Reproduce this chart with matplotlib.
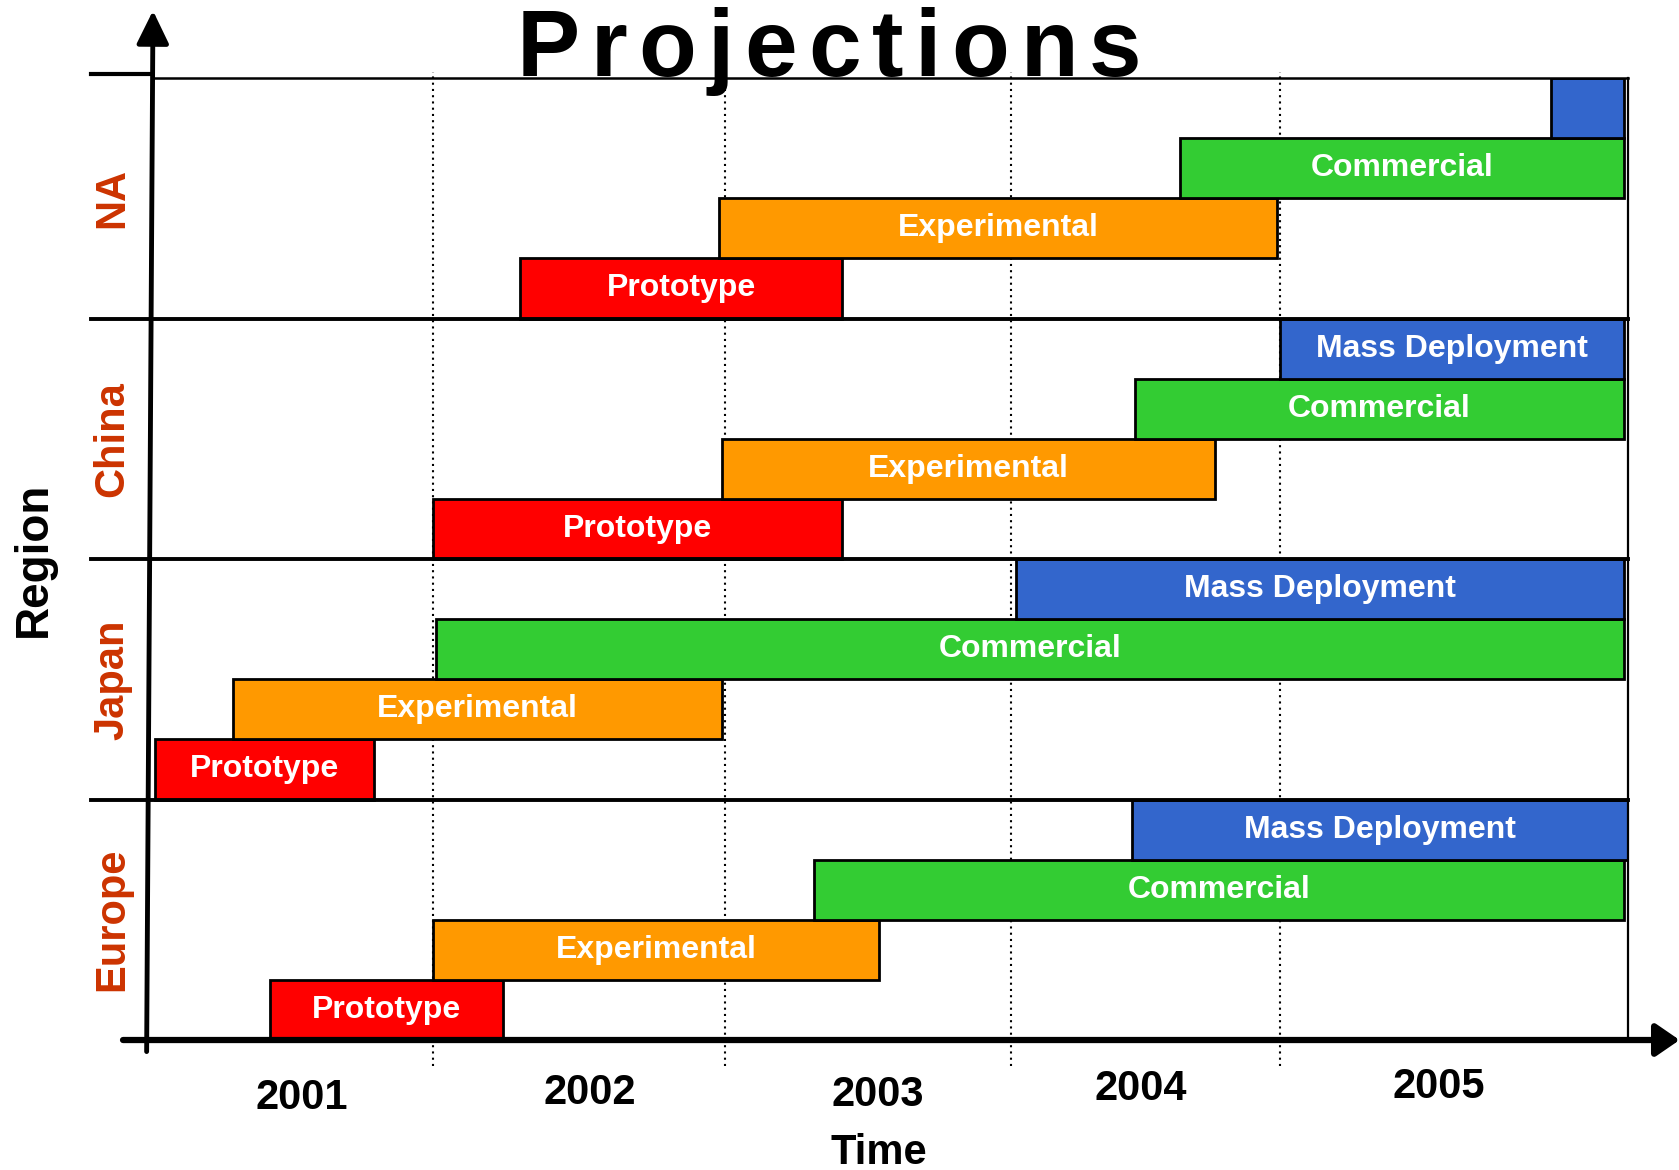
import numpy as np
import matplotlib.pyplot as plt
from matplotlib.transforms import IdentityTransform, blended_transform_factory

plt.rcParams['font.family'] = ['Liberation Sans', 'DejaVu Sans']
plt.rcParams['font.weight'] = 'bold'

# --- data -------------------------------------------------------------
regions = ['Europe', 'Japan', 'China', 'NA']          # bottom to top
phases = ['Prototype', 'Experimental', 'Commercial', 'Mass Deployment']
years = [2001, 2002, 2003, 2004, 2005]

# phase start / end (years), one value per region in the order above
prototype_start = [2001.42, 2001.01, 2002.00, 2002.30]
prototype_end = [2002.24, 2001.79, 2003.41, 2003.41]
experimental_start = [2002.00, 2001.29, 2002.99, 2002.98]
experimental_end = [2003.54, 2002.99, 2004.76, 2004.99]
commercial_start = [2003.31, 2002.01, 2004.46, 2004.63]
commercial_end = [2005.99, 2005.99, 2005.99, 2005.99]
mass_start = [2004.45, 2004.02, 2005.00, 2005.78]
mass_end = [2006.00, 2005.99, 2005.99, 2005.99]

phase_colors = ['#FF0000', '#FF9900', '#33CC33', '#3366CC']
region_color = '#CC3300'

# drawn width of each year column is not uniform in the original
year_edges = [2001, 2002, 2003, 2004, 2005, 2006]
edge_px = [0, 262, 535, 802, 1053, 1378]


def fwd(x):
    x = np.asarray(x, float)
    y = np.interp(x, year_edges, edge_px)
    y = np.where(x < 2001, (x - 2001) * 262, y)
    y = np.where(x > 2006, 1378 + (x - 2006) * 325, y)
    return y


def inv(p):
    p = np.asarray(p, float)
    x = np.interp(p, edge_px, year_edges)
    x = np.where(p < 0, 2001 + p / 262, x)
    x = np.where(p > 1378, 2006 + (p - 1378) / 325, x)
    return x


fig = plt.figure(figsize=(16.79, 11.70), dpi=100)
ax = fig.add_axes([0.0905, 0.1111, 0.8791, 0.8222])
ax.set_xscale('function', functions=(fwd, inv))
ax.set_xlim(2001, 2006)
ax.set_ylim(0, 16)
ax.set_axis_off()

bx = blended_transform_factory(ax.transAxes, ax.transData)
bd = blended_transform_factory(ax.transData, ax.transAxes)

starts = [prototype_start, experimental_start, commercial_start, mass_start]
ends = [prototype_end, experimental_end, commercial_end, mass_end]

for p, (s, e) in enumerate(zip(starts, ends)):
    for r in range(len(regions)):
        yc = 4 * r + p + 0.5
        ax.barh(yc, e[r] - s[r], left=s[r], height=1, color=phase_colors[p],
                edgecolor='black', linewidth=2, zorder=2)
        if e[r] - s[r] > 0.5:
            xm = inv((fwd(s[r]) + fwd(e[r])) / 2)
            ax.text(xm, yc, phases[p], ha='center', va='center', color='white',
                    fontsize=23, fontweight='bold', zorder=3)

# year separators
for yr in years[1:]:
    ax.axvline(yr, ymin=-0.027, ymax=1.006, color='black', ls=(0, (1, 2)),
               lw=1.5, clip_on=False, zorder=0.5)

# region separators with stubs
for yb in [4, 8, 12]:
    ax.axhline(yb, xmin=-0.0414, xmax=1, color='black', lw=2.8,
               clip_on=False, zorder=4)
ax.axhline(16, xmin=0, xmax=1, color='black', lw=1.8, clip_on=False, zorder=4)
ax.axhline(16.06, xmin=-0.0414, xmax=0, color='black', lw=3,
           clip_on=False, zorder=4)
ax.axvline(2006, ymin=0, ymax=1, color='black', lw=1.6, clip_on=False, zorder=4)

# axis arrows
ax.annotate('', xy=(1.035, 0), xytext=(-0.0196, 0), xycoords='axes fraction',
            arrowprops=dict(arrowstyle='-|>,head_length=0.32,head_width=0.22',
                            mutation_scale=45, lw=4.5, color='black',
                            shrinkA=0, shrinkB=0), zorder=5)
ax.annotate('', xy=(0.0007, 1.07), xytext=(-0.0036, -0.012),
            xycoords='axes fraction',
            arrowprops=dict(arrowstyle='-|>,head_length=0.45,head_width=0.22',
                            mutation_scale=45, lw=3.5, color='black',
                            shrinkA=0, shrinkB=0), zorder=5)

# region names
for r, name in enumerate(regions):
    ax.text(-0.027, 4 * r + 2, name, transform=bx, rotation=90, ha='center',
            va='center', color=region_color, fontsize=30, fontweight='bold')

ax.text(-0.0798, 8, 'Region', transform=bx, rotation=90, ha='center',
        va='center', color='black', fontsize=33, fontweight='bold')
ax.text(0.4927, -0.117, 'Time', transform=ax.transAxes, ha='center',
        va='center', color='black', fontsize=30, fontweight='bold')

# year labels (hand placed in the original)
label_px = [140, 409, 678, 923, 1201]
label_dy = [-0.060, -0.0546, -0.057, -0.051, -0.049]
for yr, lp, dy in zip(years, label_px, label_dy):
    ax.text(float(inv(lp)), dy, str(yr), transform=bd, ha='center',
            va='center', fontsize=30, fontweight='bold')

# letter-spaced title
title = 'Projections'
fig.canvas.draw()
renderer = fig.canvas.get_renderer()
widths = []
for ch in title:
    t = fig.text(0, 0, ch, fontsize=68, fontweight='bold')
    widths.append(t.get_window_extent(renderer).width)
    t.remove()
gap = 11
x = 829 - (sum(widths) + gap * (len(title) - 1)) / 2
for ch, w in zip(title, widths):
    fig.text(x, 1170 - 76, ch, transform=IdentityTransform(), ha='left',
             va='baseline', fontsize=68, fontweight='bold')
    x += w + gap

fig.savefig('out.png', dpi=100, facecolor='white')
